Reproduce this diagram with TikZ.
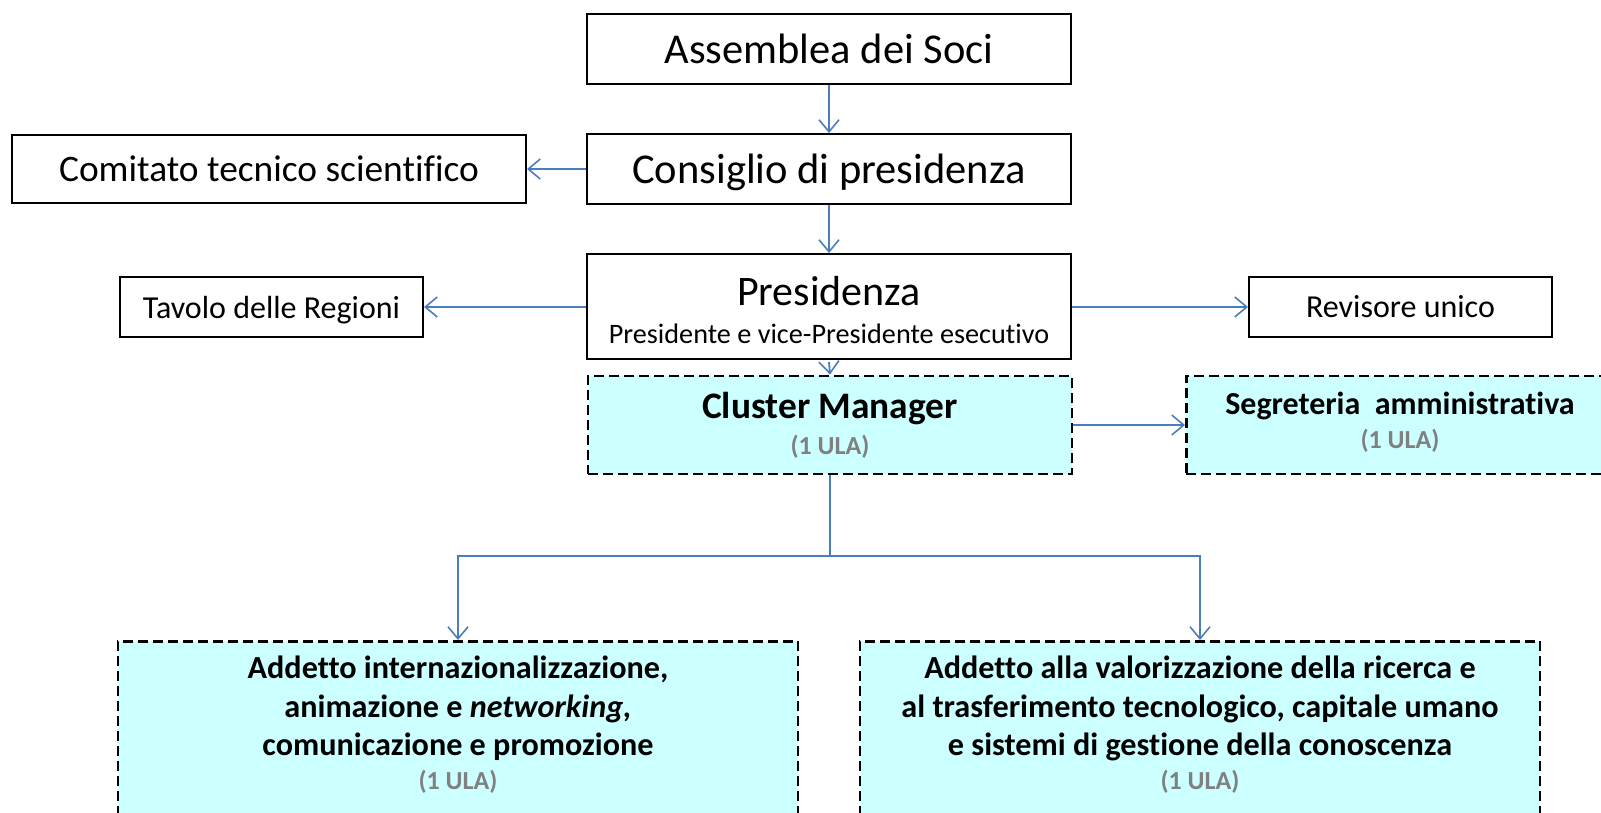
\documentclass[tikz,border=0pt]{standalone}
\usepackage{fontspec}
\setmainfont{Carlito}[Ligatures=NoCommon]
\usetikzlibrary{arrows.meta}
\definecolor{linkblue}{RGB}{74,126,187}
\definecolor{cyanfill}{RGB}{204,255,255}
\definecolor{ulagray}{RGB}{128,128,128}
\tikzset{
  box/.style={draw=black, line width=2pt, fill=white, inner sep=0pt},
  dbox/.style={draw=black, line width=2.9pt, fill=cyanfill, inner sep=0pt, dash pattern=on 10pt off 5pt},
  lbl/.style={inner sep=0pt, align=center, text=black},
  ula/.style={inner sep=0pt, text=ulagray, font=\fontsize{26}{30}\selectfont\bfseries},
  conn/.style={draw=linkblue, line width=1.8pt, -{Straight Barb[length=12pt,width=20pt,line width=1.6pt]}},
  plain/.style={draw=linkblue, line width=1.8pt},
}
\begin{document}
\begin{tikzpicture}[x=1pt,y=-1pt]
\useasboundingbox (0,0) rectangle (1601,812);
\clip (0,0) rectangle (1601,812);
% boxes
\node[box, minimum width=484pt, minimum height=70pt, font=\fontsize{42.5}{46}\selectfont] (ass) at (829,48.5) {Assemblea dei Soci};
\node[box, minimum width=484pt, minimum height=70pt, text depth=0pt, font=\fontsize{42.5}{46}\selectfont] (cons) at (829,169) {Consiglio di presidenza};
\node[box, minimum width=514pt, minimum height=68pt, font=\fontsize{37.4}{40}\selectfont] (com) at (269,169) {Comitato tecnico scientifico};
\node[box, minimum width=484pt, minimum height=105pt] (pres) at (829,306.5) {};
\node[lbl, font=\fontsize{42}{46}\selectfont] (prest) at (829,291) {Presidenza};
\node[lbl, font=\fontsize{28.2}{32}\selectfont] (press) at (829,334) {Presidente e vice-Presidente esecutivo};
\node[box, minimum width=303pt, minimum height=60pt, text depth=0pt, font=\fontsize{32}{36}\selectfont] (tav) at (271.5,307) {Tavolo delle Regioni};
\node[box, minimum width=303pt, minimum height=60pt, font=\fontsize{32}{36}\selectfont] (rev) at (1400.5,307) {Revisore unico};
% dashed boxes
\node[dbox, minimum width=484pt, minimum height=98pt] (cm) at (830,425) {};
\node[lbl, font=\fontsize{37.4}{40}\selectfont\bfseries] (cmt) at (830,409) {Cluster Manager};
\node[ula] (cmu) at (830,447) {(1 ULA)};
\node[dbox, minimum width=440pt, minimum height=98pt, anchor=west] (seg) at (1185,425) {};
\node[lbl, font=\fontsize{32}{36}\selectfont\bfseries] (segt) at (1400,406) {Segreteria\ \ amministrativa};
\node[ula] (segu) at (1400,441) {(1 ULA)};
\node[dbox, minimum width=680pt, minimum height=200pt, anchor=north] (bl) at (458,640) {};
\node[lbl, font=\fontsize{32.2}{38.4}\selectfont\bfseries, anchor=north] (blt) at (458,656) {Addetto internazionalizzazione,\\animazione e \textit{networking,}\\comunicazione e promozione};
\node[ula] (blu) at (458,782) {(1 ULA)};
\node[dbox, minimum width=680pt, minimum height=200pt, anchor=north] (br) at (1200,640) {};
\node[lbl, font=\fontsize{32.2}{38.4}\selectfont\bfseries, anchor=north] (brt) at (1200,656) {Addetto alla valorizzazione della ricerca e\\al trasferimento tecnologico, capitale umano\\e sistemi di gestione della conoscenza};
\node[ula] (bru) at (1200,782) {(1 ULA)};
% connectors
\draw[conn] (ass.south) -- (cons.north);
\draw[conn] (cons.west) -- (com.east);
\draw[conn] (cons.south) -- (pres.north);
\draw[conn] (pres.west |- tav.east) -- (tav.east);
\draw[conn] (pres.east |- rev.west) -- (rev.west);
\draw[conn] ([yshift=-2pt]pres.south) -- (cm.north);
\draw[conn] (cm.east |- seg.west) -- (seg.west);
\coordinate (split) at (830,556);
\draw[plain] (cm.south) -- (split);
\draw[conn] (split) -| (bl.north);
\draw[conn] (split) -| (br.north);
\end{tikzpicture}
\end{document}
